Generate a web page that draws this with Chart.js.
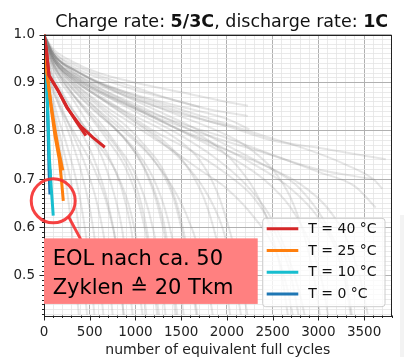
<!DOCTYPE html>
<html><head><meta charset="utf-8">
<script src="https://cdn.jsdelivr.net/npm/chart.js@4"></script>
<style>html,body{margin:0;padding:0;background:#fff;overflow:hidden}#wrap{width:404px;height:357px;position:relative}</style>
</head><body><div id="wrap"><canvas id="c" width="404" height="357"></canvas></div>
<script>
// ---------- texts ----------
const titleParts = [['Charge rate: ', false], ['5/3C', true], [', discharge rate: ', false], ['1C', true]];
const xAxisTitle = 'number of equivalent full cycles';
const xTickLabels = ['0','500','1000','1500','2000','2500','3000','3500'];
const yTickLabels = ['0.5','0.6','0.7','0.8','0.9','1.0'];
const seriesNames = ['T = 40 °C','T = 25 °C','T = 10 °C','T = 0 °C'];
const seriesColors = ['#d62728','#ff7f0e','#17becf','#1f77b4'];
const noteLines = ['EOL nach ca. 50', 'Zyklen \u2259 20 Tkm'];

// ---------- highlighted cells: [equivalent full cycles, relative capacity] ----------
const t40a = [[0,1.0],[25,0.97],[55,0.915],[150,0.885],[250,0.85],[350,0.82],[458,0.79]];
const t40b = [[0,1.0],[25,0.97],[55,0.915],[150,0.885],[250,0.848],[400,0.81],[530,0.787],[665,0.766]];
const t25a = [[0,1.0],[15,0.96],[30,0.925],[80,0.85],[120,0.803],[160,0.76],[205,0.718]];
const t25b = [[0,1.0],[15,0.96],[30,0.925],[80,0.845],[120,0.79],[167,0.741],[190,0.70],[211,0.655]];
const t10a = [[0,1.0],[15,0.95],[30,0.9],[45,0.82],[58,0.745],[80,0.68],[101,0.624]];
const t0a  = [[0,1.0],[15,0.95],[30,0.9],[45,0.8],[55,0.72],[65,0.668]];

// ---------- background cells (grey) ----------
const grayCurves = [
 [[0,1],[100,0.97],[300,0.945],[600,0.92],[1000,0.9],[1500,0.88],[2000,0.86],[2230,0.852]],
 [[0,1],[100,0.965],[300,0.935],[600,0.91],[1000,0.885],[1500,0.86],[1800,0.845],[2228,0.831]],
 [[0,1],[100,0.96],[300,0.93],[600,0.9],[1000,0.875],[1500,0.85],[2000,0.825],[2247,0.803]],
 [[0,1],[100,0.96],[300,0.925],[600,0.895],[1000,0.865],[1500,0.835],[2000,0.81],[2500,0.78],[3000,0.765],[3737,0.741]],
 [[0,1],[100,0.955],[300,0.92],[600,0.885],[1000,0.85],[1500,0.815],[2000,0.785],[2500,0.75],[3000,0.715],[3400,0.685],[3627,0.641]],
 [[0,1],[100,0.955],[300,0.915],[600,0.88],[1000,0.845],[1500,0.8],[2000,0.76],[2500,0.72],[2800,0.68],[3100,0.6],[3300,0.5],[3380,0.40]],
 [[0,1],[100,0.955],[400,0.905],[800,0.865],[1200,0.83],[1800,0.79],[2400,0.755],[3000,0.72],[3590,0.70]],
 [[0,1],[100,0.95],[300,0.91],[600,0.87],[1000,0.83],[1400,0.79],[1700,0.74],[1900,0.67],[2050,0.58],[2150,0.5],[2240,0.40]],
 [[0,1],[100,0.95],[300,0.905],[600,0.86],[1000,0.81],[1400,0.76],[1700,0.72],[2000,0.68],[2300,0.62],[2537,0.55],[2650,0.48],[2740,0.40]],
 [[0,1],[100,0.945],[300,0.9],[600,0.85],[900,0.8],[1200,0.74],[1400,0.67],[1500,0.6],[1600,0.5],[1680,0.40]],
 [[0,1],[100,0.94],[300,0.89],[600,0.835],[900,0.78],[1100,0.72],[1250,0.64],[1350,0.55],[1450,0.40]],
 [[0,1],[100,0.94],[300,0.88],[500,0.83],[700,0.78],[900,0.72],[1050,0.64],[1150,0.55],[1250,0.40]],
 [[0,1],[100,0.93],[300,0.87],[500,0.81],[700,0.75],[850,0.68],[950,0.6],[1020,0.5],[1090,0.40]],
 [[0,1],[80,0.93],[200,0.88],[400,0.82],[600,0.76],[750,0.68],[850,0.6],[920,0.5],[980,0.40]],
 [[0,1],[80,0.92],[200,0.87],[400,0.8],[550,0.74],[700,0.65],[800,0.55],[880,0.40]],
 [[0,1],[60,0.92],[150,0.87],[300,0.8],[450,0.73],[580,0.65],[680,0.55],[760,0.40]],
 [[0,1],[60,0.91],[150,0.86],[300,0.78],[400,0.72],[500,0.64],[580,0.54],[660,0.40]],
 [[0,1],[50,0.91],[120,0.85],[250,0.77],[350,0.7],[430,0.62],[500,0.52],[560,0.40]],
 [[0,1],[50,0.9],[100,0.85],[200,0.77],[300,0.69],[380,0.6],[430,0.5],[480,0.40]],
 [[0,1],[40,0.9],[100,0.84],[180,0.76],[250,0.68],[310,0.58],[350,0.48],[390,0.40]],
 [[0,1],[100,0.96],[300,0.925],[600,0.89],[1000,0.855],[1400,0.82],[1800,0.78],[2100,0.73],[2350,0.66],[2500,0.58],[2600,0.5],[2680,0.40]],
 [[0,1],[100,0.955],[300,0.915],[700,0.87],[1100,0.83],[1500,0.79],[1900,0.74],[2200,0.69],[2450,0.63],[2650,0.55],[2800,0.46],[2870,0.40]],
 [[0,1],[100,0.95],[300,0.91],[600,0.87],[900,0.83],[1200,0.79],[1500,0.74],[1750,0.68],[1950,0.6],[2080,0.5],[2170,0.40]],
 [[0,1],[100,0.95],[300,0.905],[600,0.855],[900,0.81],[1100,0.77],[1300,0.72],[1450,0.65],[1550,0.57],[1630,0.48],[1690,0.40]],
 [[0,1],[100,0.96],[400,0.92],[800,0.88],[1200,0.845],[1600,0.81],[2000,0.77],[2400,0.73],[2800,0.69],[3100,0.64],[3300,0.58],[3450,0.5],[3540,0.42]],
 [[0,1],[100,0.955],[400,0.91],[800,0.87],[1200,0.83],[1600,0.79],[2000,0.75],[2400,0.7],[2700,0.64],[2900,0.57],[3050,0.48],[3120,0.40]],
 [[0,1],[100,0.96],[400,0.92],[900,0.88],[1400,0.85],[1900,0.82],[2400,0.79],[2900,0.76],[3300,0.73],[3600,0.70],[3700,0.68]],
 [[0,1],[80,0.945],[250,0.9],[500,0.85],[800,0.8],[1000,0.76],[1200,0.7],[1350,0.62],[1450,0.53],[1540,0.40]],
 [[0,1],[80,0.94],[250,0.89],[450,0.845],[650,0.8],[850,0.75],[1000,0.69],[1120,0.6],[1200,0.5],[1270,0.40]],
 [[0,1],[60,0.93],[200,0.875],[400,0.82],[600,0.77],[800,0.71],[950,0.63],[1050,0.53],[1130,0.40]],
 [[0,1],[100,0.96],[300,0.93],[700,0.89],[1100,0.86],[1500,0.83],[1900,0.8],[2200,0.77],[2500,0.72],[2700,0.66],[2850,0.58],[2950,0.5],[3030,0.40]],
 [[0,1],[100,0.95],[300,0.9],[500,0.86],[800,0.81],[1100,0.76],[1350,0.7],[1550,0.63],[1700,0.55],[1800,0.47],[1860,0.40]],
 [[0,1],[100,0.94],[300,0.88],[600,0.82],[800,0.77],[1000,0.71],[1150,0.63],[1250,0.54],[1340,0.40]],
 [[0,1],[100,0.95],[400,0.9],[800,0.85],[1200,0.8],[1600,0.76],[2000,0.71],[2300,0.66],[2550,0.58],[2700,0.5],[2800,0.40]],
 [[0,1],[100,0.955],[400,0.905],[900,0.855],[1400,0.81],[1900,0.77],[2300,0.73],[2700,0.68],[3000,0.62],[3200,0.55],[3300,0.48],[3370,0.40]],
 [[0,1],[50,0.92],[150,0.86],[350,0.79],[550,0.72],[700,0.64],[800,0.55],[880,0.40]],
 [[0,1],[100,0.96],[300,0.93],[600,0.9],[1000,0.87],[1400,0.845],[1800,0.82],[2000,0.81]],
 [[0,1],[100,0.965],[300,0.94],[600,0.915],[1000,0.89],[1400,0.865],[1700,0.85]],
 [[0,1],[100,0.95],[300,0.91],[600,0.87],[1000,0.82],[1300,0.78],[1550,0.73],[1750,0.66],[1880,0.58],[1970,0.5],[2050,0.40]],
 [[0,1],[100,0.945],[300,0.895],[600,0.84],[850,0.79],[1050,0.74],[1200,0.68],[1320,0.6],[1400,0.5],[1470,0.40]]
];

// ---------- annotation anchors in data units ----------
const eolMark = [101, 0.655];
const noteBox = [0, 2337, 0.577, 0.441];

const toXY = a => a.map(p => ({x: p[0], y: p[1]}));
const colored = [[t40a, 0], [t40b, 0], [t25a, 1], [t25b, 1], [t10a, 2], [t0a, 3]];
const datasets = [];
colored.forEach(([arr, k]) => datasets.push({
  data: toXY(arr), borderColor: seriesColors[k], borderWidth: 3, showLine: true,
  pointRadius: 0, tension: 0, label: seriesNames[k]
}));
grayCurves.forEach(arr => datasets.push({
  data: toXY(arr), borderColor: 'rgba(128,128,128,0.2)', borderWidth: 2, showLine: true,
  pointRadius: 0, cubicInterpolationMode: 'monotone', label: 'cell'
}));

const isMajorX = v => xTickLabels.some(l => Math.abs(Number(l) - v) < 1e-6);
const isMajorY = v => yTickLabels.some(l => Math.abs(Number(l) - v) < 1e-6);
const FONT = "'DejaVu Sans', sans-serif";

const deco = {
  id: 'deco',
  beforeDraw(chart) {
    const c = chart.ctx;
    c.save(); c.fillStyle = '#f3f3f3'; c.fillRect(400, 215, 4, 142); c.restore();
  },
  afterDatasetsDraw(chart) {
    const c = chart.ctx, ca = chart.chartArea, xs = chart.scales.x, ys = chart.scales.y;
    c.save();
    // frame
    c.strokeStyle = '#222'; c.lineWidth = 1;
    c.strokeRect(Math.round(ca.left) + 0.5, Math.round(ca.top) + 0.5, Math.round(ca.right - ca.left) - 1, Math.round(ca.bottom - ca.top));
    // tick marks
    c.beginPath();
    xs.ticks.forEach(t => {
      const px = Math.round(xs.getPixelForValue(t.value)) + 0.5;
      const L = isMajorX(t.value) ? 5 : 2.5;
      c.moveTo(px, Math.round(ca.bottom) + 0.5); c.lineTo(px, Math.round(ca.bottom) + 0.5 + L);
    });
    ys.ticks.forEach(t => {
      const py = Math.round(ys.getPixelForValue(t.value)) + 0.5;
      const L = isMajorY(t.value) ? 5 : 2.5;
      c.moveTo(Math.round(ca.left) + 0.5, py); c.lineTo(Math.round(ca.left) + 0.5 - L, py);
    });
    c.stroke();

    // EOL circle + connector
    const cx = xs.getPixelForValue(eolMark[0]), cy = ys.getPixelForValue(eolMark[1]);
    const r = 22;
    const bx0 = xs.getPixelForValue(noteBox[0]), bx1 = xs.getPixelForValue(noteBox[1]);
    const by0 = ys.getPixelForValue(noteBox[2]), by1 = ys.getPixelForValue(noteBox[3]);
    c.strokeStyle = 'rgba(245,45,45,0.9)'; c.lineWidth = 3;
    c.beginPath(); c.arc(cx, cy, r, 0, Math.PI * 2); c.stroke();
    const ang = 46 * Math.PI / 180;
    c.beginPath(); c.moveTo(cx + r * Math.cos(ang), cy + r * Math.sin(ang)); c.lineTo(cx + 27.5, by0 + 1); c.stroke();
    // note box
    c.fillStyle = '#ff8080';
    c.fillRect(bx0, by0, bx1 - bx0, by1 - by0);
    c.fillStyle = '#000'; c.font = "21px " + FONT; c.textBaseline = 'alphabetic'; c.textAlign = 'left';
    c.fillText(noteLines[0], bx0 + 8.7, by0 + 26.7);
    c.fillText(noteLines[1], bx0 + 8.7, by0 + 55.7);

    // legend
    const lx = ca.right - 128.8, ly = ca.bottom - 96.7, lw = 122.3, lh = 88.4;
    c.fillStyle = 'rgba(255,255,255,0.8)'; c.strokeStyle = '#cccccc'; c.lineWidth = 1;
    c.beginPath(); c.roundRect(lx, ly, lw, lh, 3); c.fill(); c.stroke();
    c.font = "14px " + FONT; c.textBaseline = 'middle';
    seriesNames.forEach((n, i) => {
      const yy = ly + 10.5 + i * 21.7;
      c.strokeStyle = seriesColors[i]; c.lineWidth = 3;
      c.beginPath(); c.moveTo(lx + 4, yy); c.lineTo(lx + 35.6, yy); c.stroke();
      c.fillStyle = '#111'; c.fillText(n, lx + 45.6, yy + 0.5);
    });

    // title (mixed weight)
    c.textBaseline = 'alphabetic';
    let total = 0;
    titleParts.forEach(([s, b]) => { c.font = (b ? 'bold ' : '') + '17.5px ' + FONT; total += c.measureText(s).width; });
    let x = 221.7 - total / 2;
    c.fillStyle = '#111';
    titleParts.forEach(([s, b]) => { c.font = (b ? 'bold ' : '') + '17.5px ' + FONT; c.fillText(s, x, 27.3); x += c.measureText(s).width; });
    c.restore();
  }
};

Chart.defaults.font.family = FONT;
new Chart(document.getElementById('c'), {
  type: 'scatter',
  data: { datasets },
  options: {
    responsive: false, animation: false, events: [],
    layout: { padding: { top: 34.5, right: 12.5, left: 0, bottom: 0 } },
    plugins: { legend: { display: false }, tooltip: { enabled: false } },
    scales: {
      x: {
        type: 'linear', min: 0, max: 3800,
        afterBuildTicks: s => { const t = []; for (let i = 0; i <= 38; i++) t.push({ value: i * 100 }); s.ticks = t; },
        afterFit: s => { s.height = 42; },
        border: { display: false },
        grid: { drawTicks: false, color: ctx => isMajorX(ctx.tick.value) ? '#b0b0b0' : '#e4e4e4', lineWidth: ctx => isMajorX(ctx.tick.value) ? 1 : 0.8 },
        ticks: { autoSkip: false, maxRotation: 0, padding: 9, color: '#222', font: { size: 13.5 },
          callback: v => { const l = xTickLabels.find(l => Math.abs(Number(l) - v) < 1e-6); return l === undefined ? '' : l; } },
        title: { display: true, text: xAxisTitle, color: '#222', font: { size: 14, lineHeight: 1.0 }, padding: 0 }
      },
      y: {
        type: 'linear', min: 0.418, max: 1.0,
        afterBuildTicks: s => { const t = []; for (let i = 42; i <= 100; i++) t.push({ value: i / 100 }); s.ticks = t; },
        afterFit: s => { s.width = 44; },
        border: { display: false },
        grid: { drawTicks: false, color: ctx => isMajorY(ctx.tick.value) ? '#b0b0b0' : '#e4e4e4', lineWidth: ctx => isMajorY(ctx.tick.value) ? 1 : 0.8 },
        ticks: { autoSkip: false, padding: 9, color: '#222', font: { size: 13.5 },
          callback: v => { const l = yTickLabels.find(l => Math.abs(Number(l) - v) < 1e-6); return l === undefined ? '' : l; } }
      }
    }
  },
  plugins: [deco]
});
</script></body></html>
